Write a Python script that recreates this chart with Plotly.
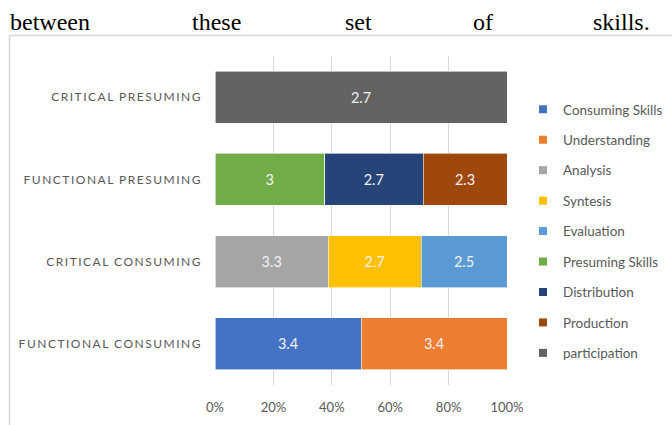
import plotly.graph_objects as go

W, H = 672, 425
ML, MR, MT, MB = 215, 165, 56, 40
PW, PH = W - ML - MR, H - MT - MB

categories = ["FUNCTIONAL CONSUMING", "CRITICAL CONSUMING",
              "FUNCTIONAL PRESUMING", "CRITICAL PRESUMING"]

series_names = ["Consuming Skills", "Understanding", "Analysis", "Syntesis",
                "Evaluation", "Presuming Skills", "Distribution", "Production",
                "participation"]
consuming_skills = [3.4, None, None, None]
understanding = [3.4, None, None, None]
analysis = [None, 3.3, None, None]
syntesis = [None, 2.7, None, None]
evaluation = [None, 2.5, None, None]
presuming_skills = [None, None, 3, None]
distribution = [None, None, 2.7, None]
production = [None, None, 2.3, None]
participation = [None, None, None, 2.7]
series_values = [consuming_skills, understanding, analysis, syntesis, evaluation,
                 presuming_skills, distribution, production, participation]
colors = ["#4472C4", "#ED7D31", "#A5A5A5", "#FFC000", "#5B9BD5",
          "#70AD47", "#264478", "#9E480E", "#636363"]

x_ticks = [0, 20, 40, 60, 80, 100]
x_tick_labels = ["0%", "20%", "40%", "60%", "80%", "100%"]

heading_words = ["between", "these", "set", "of", "skills."]
heading_x_px = [8, 190, 343, 471, 652]


def px_x(p):
    return (p - ML) / PW


def px_y(p):
    return (H - MB - p) / PH


FONT = "Lato, 'Open Sans', sans-serif"

fig = go.Figure()
for name, vals, col in zip(series_names, series_values, colors):
    fig.add_trace(go.Bar(
        y=categories, x=vals, name=name, orientation="h",
        marker=dict(color=col, line=dict(width=0.6, color="#FFFFFF")),
        text=[("" if v is None else f"{v:g}") for v in vals],
        texttemplate="%{text}",
        textposition="inside", insidetextanchor="middle", textangle=0,
        insidetextfont=dict(family=FONT, size=14.5, color="#F2F2F2"),
        legendgroup=name, showlegend=False, hoverinfo="x+y+name",
    ))
# legend entries with small square keys, one per series
for name, col in zip(series_names, colors):
    fig.add_trace(go.Scatter(
        x=[None], y=[None], mode="markers", name=name,
        marker=dict(symbol="square", size=8, color=col),
        legendgroup=name, showlegend=True, hoverinfo="skip",
    ))

annotations = []
for i, (w, xp) in enumerate(zip(heading_words, heading_x_px)):
    annotations.append(dict(
        text=w, xref="paper", yref="paper", x=px_x(xp), y=px_y(22),
        xanchor="right" if i == len(heading_words) - 1 else "left",
        yanchor="middle", showarrow=False,
        font=dict(family="Liberation Serif, 'Times New Roman', serif",
                  size=24, color="#000000"),
    ))

shapes = [dict(type="rect", xref="paper", yref="paper",
               x0=px_x(9.5), x1=px_x(W + 20), y0=px_y(35.5), y1=px_y(H + 20),
               line=dict(color="#D9D9D9", width=1.5), fillcolor="rgba(0,0,0,0)",
               layer="below")]

fig.update_layout(
    width=W, height=H,
    margin=dict(l=ML, r=MR, t=MT, b=MB, autoexpand=False),
    paper_bgcolor="#FFFFFF", plot_bgcolor="#FFFFFF",
    barmode="stack", barnorm="percent", bargap=0.366,
    font=dict(family=FONT, color="#595959"),
    showlegend=True,
    legend=dict(
        x=px_x(523), y=px_y(94), xanchor="left", yanchor="top",
        traceorder="grouped", tracegroupgap=9.9,
        font=dict(family=FONT, size=13.5, color="#595959"),
        bgcolor="rgba(0,0,0,0)", itemwidth=30,
    ),
    xaxis=dict(
        range=[0, 100], tickvals=x_ticks, ticktext=x_tick_labels,
        showgrid=True, gridcolor="#D9D9D9", gridwidth=1,
        zeroline=False, showline=False, ticks="",
        ticklabelstandoff=13,
        tickfont=dict(family=FONT, size=13, color="#595959"),
        fixedrange=True,
    ),
    yaxis=dict(
        categoryorder="array", categoryarray=categories,
        tickvals=categories,
        ticktext=[f'<span style="letter-spacing:1.5px">{c}</span>' for c in categories],
        showgrid=False, zeroline=False, showline=False, ticks="",
        ticklabelstandoff=12,
        tickfont=dict(family=FONT, size=12, color="#595959"),
        fixedrange=True,
    ),
    annotations=annotations,
    shapes=shapes,
)

fig.write_html("out.html")
